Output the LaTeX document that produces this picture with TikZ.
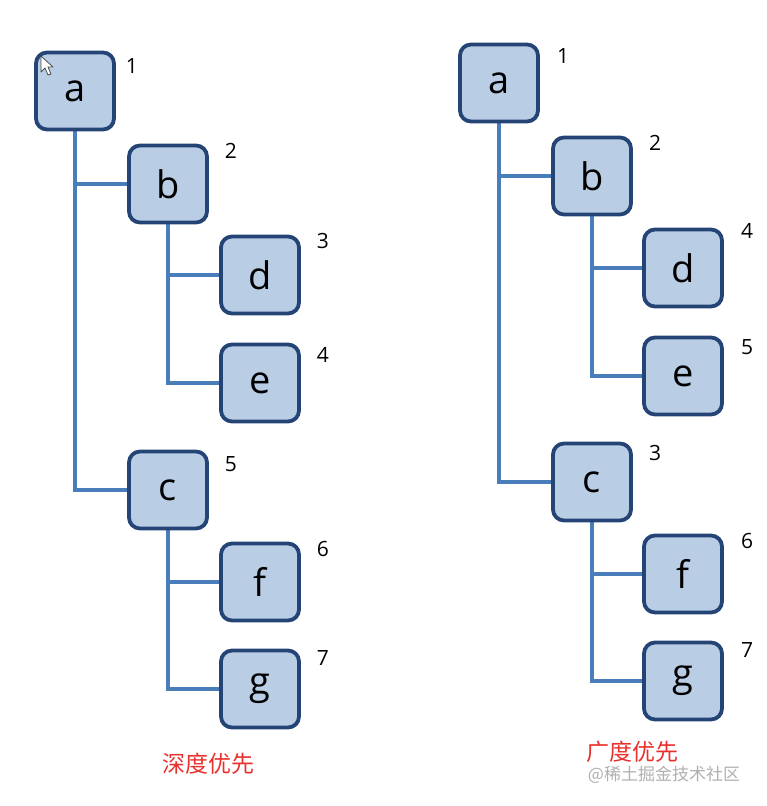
\documentclass[tikz,border=0pt]{standalone}
\usepackage{fontspec}
\usetikzlibrary{backgrounds}
\setmainfont{Open Sans}
\newfontfamily\cjk{Noto Sans CJK SC}
\definecolor{boxfill}{RGB}{185,205,229}
\definecolor{boxline}{RGB}{36,68,118}
\definecolor{connline}{RGB}{74,126,187}
\definecolor{capred}{RGB}{232,48,44}
\definecolor{wmgray}{RGB}{175,175,175}
\begin{document}
\begin{tikzpicture}[x=1pt,y=-1pt,
  treebox/.style={draw=boxline,fill=boxfill,line width=3.8pt,rounded corners=11pt,
    minimum width=78pt,minimum height=77pt,inner sep=0pt,
    font=\fontsize{38}{40}\selectfont},
  conn/.style={draw=connline,line width=3.4pt},
  order/.style={font=\fontsize{21}{23}\selectfont,inner sep=0pt},
  caption/.style={font=\cjk\fontsize{23}{25}\selectfont,text=capred,inner sep=0pt}]
\useasboundingbox (0,0) rectangle (766,806);
% ---------- left tree (depth first) ----------
\node[treebox] (La) at (75,91) {a};
\node[treebox] (Lb) at (168,184) {b};
\node[treebox] (Ld) at (260,275) {d};
\node[treebox] (Le) at (260,383) {e};
\node[treebox] (Lc) at (168,490) {c};
\node[treebox] (Lf) at (260,582) {f};
\node[treebox] (Lg) at (260,689) {g};
\node[order] (Ln1) at (132,66) {1};
\node[order] (Ln2) at (231,151) {2};
\node[order] (Ln3) at (323,241) {3};
\node[order] (Ln4) at (323,355) {4};
\node[order] (Ln5) at (231,464) {5};
\node[order] (Ln6) at (323,549) {6};
\node[order] (Ln7) at (323,658) {7};
\node[caption] (Lcap) at (208,764) {深度优先};
% ---------- right tree (breadth first) ----------
\node[treebox] (Ra) at (499,83) {a};
\node[treebox] (Rb) at (592,176) {b};
\node[treebox] (Rd) at (683,268) {d};
\node[treebox] (Re) at (683,376) {e};
\node[treebox] (Rc) at (592,482) {c};
\node[treebox] (Rf) at (683,574) {f};
\node[treebox] (Rg) at (683,681) {g};
\node[order] (Rn1) at (563,56) {1};
\node[order] (Rn2) at (655,143) {2};
\node[order] (Rn4) at (747,231) {4};
\node[order] (Rn5) at (747,347) {5};
\node[order] (Rn3) at (655,453) {3};
\node[order] (Rn6) at (747,541) {6};
\node[order] (Rn7) at (747,650) {7};
\node[caption] (Rcap) at (632,752) {广度优先};
\node[font=\cjk\fontsize{17}{19}\selectfont,text=wmgray,inner sep=0pt] (wm) at (664,775) {@稀土掘金技术社区};
% ---------- connectors ----------
\begin{scope}[on background layer]
\draw[conn] (La.south) |- (Lc.west);
\draw[conn] (La.south |- Lb.west) -- (Lb.west);
\draw[conn] (Lb.south) |- (Le.west);
\draw[conn] (Lb.south |- Ld.west) -- (Ld.west);
\draw[conn] (Lc.south) |- (Lg.west);
\draw[conn] (Lc.south |- Lf.west) -- (Lf.west);
\draw[conn] (Ra.south) |- (Rc.west);
\draw[conn] (Ra.south |- Rb.west) -- (Rb.west);
\draw[conn] (Rb.south) |- (Re.west);
\draw[conn] (Rb.south |- Rd.west) -- (Rd.west);
\draw[conn] (Rc.south) |- (Rg.west);
\draw[conn] (Rc.south |- Rf.west) -- (Rf.west);
\end{scope}
% ---------- mouse pointer ----------
\draw[fill=white,draw=black!70,line width=0.8pt,line join=round]
  (41,56) -- (41,72) -- (45,68) -- (48,75) -- (51,74) -- (48,67) -- (53,67) -- cycle;
\end{tikzpicture}
\end{document}
